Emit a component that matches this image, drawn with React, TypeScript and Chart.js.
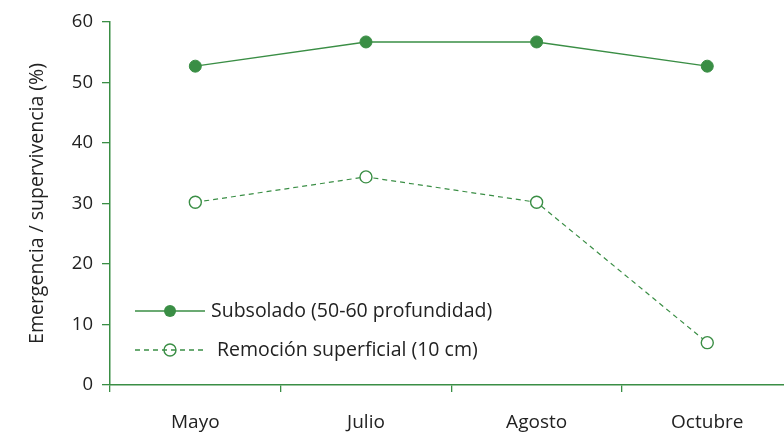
import React, { useEffect, useRef } from "react";
import { Chart, registerables } from "chart.js";

Chart.register(...registerables);

const categories = ["Mayo", "Julio", "Agosto", "Octubre"];
const subsolado = [52.7, 56.7, 56.7, 52.7];
const remocion = [30.2, 34.4, 30.2, 7.0];
const seriesLabels = ["Subsolado (50-60 profundidad)", "Remoción superficial (10 cm)"];
const yTitle = "Emergencia / supervivencia (%)";
const yMin = 0;
const yMax = 60;
const yStep = 10;

const GREEN = "#3a8e45";
const TEXT = "#222222";
const FONT = "'Open Sans', 'Noto Sans', sans-serif";

const legendPlugin = {
  id: "customLegend",
  afterDraw(chart: any) {
    const ctx = chart.ctx;
    const x0 = 135;
    const x1 = 205;
    const mx = 170;
    const rows = [
      { y: 311, dash: [] as number[], filled: true, text: seriesLabels[0], tx: 211 },
      { y: 350, dash: [5, 4], filled: false, text: seriesLabels[1], tx: 217 },
    ];
    ctx.save();
    rows.forEach((r) => {
      ctx.strokeStyle = GREEN;
      ctx.lineWidth = 1.3;
      ctx.setLineDash(r.dash);
      ctx.beginPath();
      ctx.moveTo(x0, r.y);
      ctx.lineTo(x1, r.y);
      ctx.stroke();
      ctx.setLineDash([]);
      ctx.beginPath();
      ctx.arc(mx, r.y, 6, 0, Math.PI * 2);
      if (r.filled) {
        ctx.fillStyle = GREEN;
        ctx.fill();
      } else {
        ctx.lineWidth = 1.4;
        ctx.stroke();
      }
      ctx.fillStyle = TEXT;
      ctx.font = `19.5px ${FONT}`;
      ctx.textBaseline = "middle";
      ctx.textAlign = "left";
      ctx.fillText(r.text, r.tx, r.y);
    });
    ctx.restore();
  },
};

export default function App() {
  const ref = useRef<HTMLCanvasElement | null>(null);
  useEffect(() => {
    if (!ref.current) return;
    const chart = new Chart(ref.current, {
      type: "line",
      data: {
        labels: categories,
        datasets: [
          {
            label: seriesLabels[0],
            data: subsolado,
            borderColor: GREEN,
            backgroundColor: GREEN,
            borderWidth: 1.4,
            pointRadius: 6,
            pointBackgroundColor: GREEN,
            pointBorderColor: GREEN,
            pointBorderWidth: 1,
            tension: 0,
          },
          {
            label: seriesLabels[1],
            data: remocion,
            borderColor: GREEN,
            backgroundColor: "#ffffff",
            borderWidth: 1.2,
            borderDash: [5, 4],
            pointRadius: 6,
            pointBackgroundColor: "#ffffff",
            pointBorderColor: GREEN,
            pointBorderWidth: 1.4,
            tension: 0,
          },
        ],
      },
      options: {
        responsive: false,
        animation: false,
        layout: { padding: { top: 22, right: 6, left: 0, bottom: 0 } },
        plugins: { legend: { display: false }, tooltip: { enabled: false } },
        scales: {
          x: {
            offset: true,
            grid: {
              offset: true,
              drawOnChartArea: false,
              drawTicks: true,
              tickLength: 7,
              color: GREEN,
              lineWidth: 1.3,
            },
            border: { color: GREEN, width: 1.5 },
            ticks: {
              color: TEXT,
              font: { family: FONT, size: 19 },
              padding: 19,
              maxRotation: 0,
            },
            afterFit(scale: any) {
              scale.height = 49;
            },
          },
          y: {
            min: yMin,
            max: yMax,
            grid: {
              drawOnChartArea: false,
              drawTicks: true,
              tickLength: 8,
              color: GREEN,
              lineWidth: 1.3,
            },
            border: { color: GREEN, width: 1.5 },
            ticks: {
              stepSize: yStep,
              color: TEXT,
              font: { family: FONT, size: 18.5 },
              padding: 9,
            },
            title: {
              display: true,
              text: yTitle,
              color: TEXT,
              font: { family: FONT, size: 19.5 },
              padding: { top: 26, bottom: 12 },
            },
            afterFit(scale: any) {
              scale.width = 110;
            },
          },
        },
      },
      plugins: [legendPlugin],
    });
    return () => chart.destroy();
  }, []);
  return (
    <div
      style={{
        position: "fixed",
        left: 0,
        top: 0,
        width: 784,
        height: 434,
        overflow: "hidden",
        background: "#ffffff",
      }}
    >
      <canvas ref={ref} width={800} height={434} style={{ display: "block" }} />
    </div>
  );
}
